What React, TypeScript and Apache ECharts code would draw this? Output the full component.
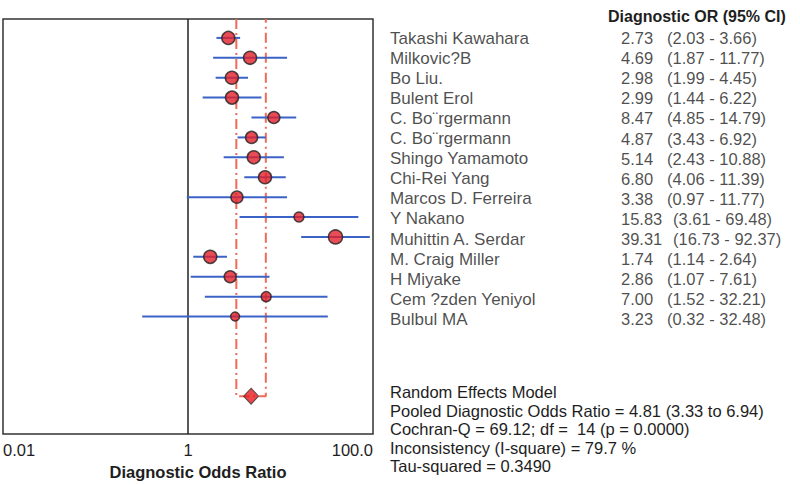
import React, { useEffect, useRef } from "react";
import * as echarts from "echarts";

const studies = [
  "Takashi Kawahara",
  "Milkovic?B",
  "Bo Liu.",
  "Bulent Erol",
  "C. Bo¨rgermann",
  "C. Bo¨rgermann",
  "Shingo Yamamoto",
  "Chi-Rei Yang",
  "Marcos D. Ferreira",
  "Y Nakano",
  "Muhittin A. Serdar",
  "M. Craig Miller",
  "H Miyake",
  "Cem ?zden Yeniyol",
  "Bulbul MA",
];
const oddsRatios = [2.73, 4.69, 2.98, 2.99, 8.47, 4.87, 5.14, 6.8, 3.38, 15.83, 39.31, 1.74, 2.86, 7.0, 3.23];
const ciLower = [2.03, 1.87, 1.99, 1.44, 4.85, 3.43, 2.43, 4.06, 0.97, 3.61, 16.73, 1.14, 1.07, 1.52, 0.32];
const ciUpper = [3.66, 11.77, 4.45, 6.22, 14.79, 6.92, 10.88, 11.39, 11.77, 69.48, 92.37, 2.64, 7.61, 32.21, 32.48];
const markerSizes = [13, 13, 13, 13, 12, 12, 13, 13, 12, 10, 14, 13, 12, 10, 9];

const pooledOR = 4.81;
const pooledLower = 3.33;
const pooledUpper = 6.94;

const header = "Diagnostic OR (95% CI)";
const xAxisTitle = "Diagnostic Odds Ratio";
const summaryLines = [
  "Random Effects Model",
  "Pooled Diagnostic Odds Ratio = 4.81 (3.33 to 6.94)",
  "Cochran-Q = 69.12; df =  14 (p = 0.0000)",
  "Inconsistency (I-square) = 79.7 %",
  "Tau-squared = 0.3490",
];
const tickLabels: Record<number, string> = { [-2]: "0.01", 0: "1", 2: "100.0" };

const FONT = "'Liberation Sans', Arial, sans-serif";
const TEXT = "#1e1e1e";
const Y_MIN = -0.95;
const Y_MAX = 19.9;
const POOLED_ROW = 18;

export default function App() {
  const ref = useRef<HTMLDivElement>(null);
  useEffect(() => {
    if (!ref.current) return;
    const chart = echarts.init(ref.current, undefined, { renderer: "svg" });
    const rows = studies.map((_, i) => i);
    const option: any = {
      animation: false,
      textStyle: { fontFamily: FONT, color: TEXT },
      title: [
        {
          text: header,
          left: 603,
          top: 3,
          textStyle: { fontFamily: FONT, fontSize: 16, fontWeight: "bold", color: TEXT },
        },
        {
          text: summaryLines.join("\n"),
          left: 390,
          top: 383,
          padding: 0,
          textStyle: { fontFamily: FONT, fontSize: 16.5, fontWeight: "normal", color: TEXT, lineHeight: 18.5 },
        },
      ],
      grid: [
        { left: 3, right: 427, top: 19, bottom: 47, show: true, borderColor: "#333", borderWidth: 1.5 },
        { left: 390, right: 0, top: 19, bottom: 47 },
      ],
      xAxis: [
        {
          type: "log",
          logBase: 10,
          min: 0.01,
          max: 100,
          gridIndex: 0,
          axisLine: { show: false },
          axisTick: { show: false },
          splitLine: { show: false },
          axisLabel: {
            show: true,
            margin: 7,
            fontSize: 16.5,
            color: TEXT,
            fontFamily: FONT,
            alignMinLabel: "left",
            alignMaxLabel: "right",
            formatter: (v: number) => tickLabels[Math.round(Math.log10(v))] ?? "",
          },
          name: xAxisTitle,
          nameLocation: "middle",
          nameGap: 29,
          nameTextStyle: {
            fontFamily: FONT,
            fontSize: 16.5,
            fontWeight: "bold",
            color: TEXT,
            padding: [0, 0, 0, 20],
          },
        },
        { type: "value", min: 0, max: 410, gridIndex: 1, show: false },
      ],
      yAxis: [
        { type: "value", inverse: true, min: Y_MIN, max: Y_MAX, gridIndex: 0, show: false },
        { type: "value", inverse: true, min: Y_MIN, max: Y_MAX, gridIndex: 1, show: false },
      ],
      series: [
        {
          type: "line",
          data: [[1, Y_MIN], [1, Y_MAX]],
          symbol: "none",
          lineStyle: { color: "#222", width: 1.5 },
          silent: true,
          z: 1,
        },
        {
          type: "line",
          data: [
            [pooledLower, Y_MIN],
            [pooledLower, POOLED_ROW],
            [pooledUpper, POOLED_ROW],
            [pooledUpper, Y_MIN],
          ],
          symbol: "none",
          lineStyle: { color: "#ef6a58", width: 2, type: [10, 4, 2, 4] },
          silent: true,
          z: 2,
        },
        {
          type: "custom",
          data: rows.map((i) => [ciLower[i], ciUpper[i], i]),
          encode: { x: [0, 1], y: 2 },
          renderItem: (_p: any, api: any) => {
            const a = api.coord([api.value(0), api.value(2)]);
            const b = api.coord([api.value(1), api.value(2)]);
            return {
              type: "line",
              shape: { x1: a[0], y1: a[1], x2: b[0], y2: b[1] },
              style: { stroke: "#3b62c6", lineWidth: 2 },
            };
          },
          silent: true,
          z: 3,
        },
        {
          type: "scatter",
          data: rows.map((i) => [oddsRatios[i], i]),
          symbol: "circle",
          symbolSize: (_v: any, p: any) => markerSizes[p.dataIndex],
          itemStyle: { color: "#e2202a", borderColor: "#222", borderWidth: 1.5 },
          silent: true,
          z: 4,
        },
        {
          type: "scatter",
          data: [[pooledOR, POOLED_ROW]],
          symbol: "diamond",
          symbolSize: [15, 16],
          itemStyle: { color: "#e8191e", borderColor: "#333", borderWidth: 1 },
          silent: true,
          z: 5,
        },
        {
          type: "scatter",
          xAxisIndex: 1,
          yAxisIndex: 1,
          data: rows.map((i) => [0, i]),
          symbolSize: 0,
          silent: true,
          label: {
            show: true,
            position: "inside",
            align: "left",
            verticalAlign: "middle",
            fontFamily: FONT,
            fontSize: 17,
            color: TEXT,
            formatter: (p: any) => studies[p.dataIndex],
          },
        },
        {
          type: "scatter",
          xAxisIndex: 1,
          yAxisIndex: 1,
          data: rows.map((i) => [231, i]),
          symbolSize: 0,
          silent: true,
          label: {
            show: true,
            position: "inside",
            align: "left",
            verticalAlign: "middle",
            fontFamily: FONT,
            fontSize: 16.5,
            color: TEXT,
            formatter: (p: any) => oddsRatios[p.dataIndex].toFixed(2),
          },
        },
        {
          type: "scatter",
          xAxisIndex: 1,
          yAxisIndex: 1,
          data: rows.map((i) => [oddsRatios[i].toFixed(2).length > 4 ? 283 : 277, i]),
          symbolSize: 0,
          silent: true,
          label: {
            show: true,
            position: "inside",
            align: "left",
            verticalAlign: "middle",
            fontFamily: FONT,
            fontSize: 16.5,
            color: TEXT,
            formatter: (p: any) =>
              `(${ciLower[p.dataIndex].toFixed(2)} - ${ciUpper[p.dataIndex].toFixed(2)})`,
          },
        },
      ],
    };
    chart.setOption(option);
    return () => chart.dispose();
  }, []);
  return (
    <div
      ref={ref}
      style={{ position: "absolute", left: 0, top: 0, width: 800, height: 485, background: "#fff" }}
    />
  );
}
